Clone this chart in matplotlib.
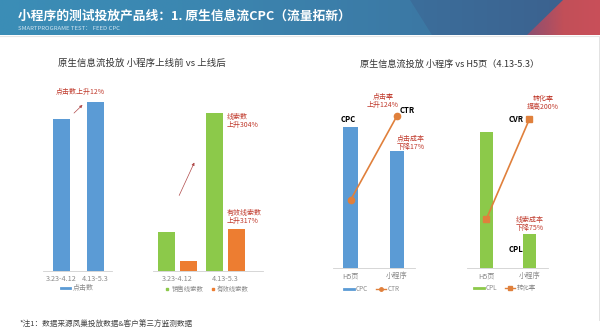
import numpy as np
import matplotlib
matplotlib.use("Agg")
import matplotlib.pyplot as plt
from matplotlib.lines import Line2D
from matplotlib.patches import Polygon
from matplotlib.colors import LinearSegmentedColormap

plt.rcParams['font.family'] = ['Noto Sans CJK SC', 'DejaVu Sans']

# ---------------- data ----------------
title = "小程序的测试投放产品线：1. 原生信息流CPC（流量拓新）"
subtitle = "SMARTPROGRAME TEST： FEED CPC"
footer = "*注1：数据来源凤巢投放数据&客户第三方监测数据"

periods = ["3.23-4.12", "4.13-5.3"]
clicks = [152, 169]

leads_sales = [39, 158]
leads_valid = [10, 42]

pages = ["H5页", "小程序"]
cpc = [141, 117]
ctr = [68, 152]

pages2 = ["H5页", "小程序"]
cpl = [136, 34]
cvr = [49, 149]

BLUE = "#5b9bd5"
GREEN = "#8cc94a"
ORANGE = "#ed7d31"
LINEOR = "#e0803c"
RED = "#c0392b"
GRAY = "#8a8a8a"

W, H = 600, 335
fig = plt.figure(figsize=(6.0, 3.35), dpi=100)
fig.patch.set_facecolor("white")


def rect(x0, x1, ytop, ybase):
    return [x0 / W, 1 - ybase / H, (x1 - x0) / W, (ybase - ytop) / H]


def fx(x):
    return x / W


def fy(y):
    return 1 - y / H


# ---------------- header ----------------
hax = fig.add_axes([0, 1 - 35 / H, 1, 35 / H])
hax.set_xlim(0, W)
hax.set_ylim(35, 0)
hax.axis("off")
cmap = LinearSegmentedColormap.from_list("hdr", ["#3a8db6", "#3a82ad", "#3b6f9c", "#3c5f8c"])
grad = np.linspace(0, 1, 256).reshape(1, -1)
hax.imshow(grad, extent=(0, W, 35, 0), aspect="auto", cmap=cmap, zorder=0)
hax.add_patch(Polygon([[410, 0], [432, 35], [0, 35], [0, 0]], closed=True,
                      facecolor="#3d8fb8", alpha=0.35, lw=0, zorder=1))
rcmap = LinearSegmentedColormap.from_list("red", ["#8a4f72", "#c24f58", "#c9505a"])
im = hax.imshow(grad, extent=(527, W, 35, 0), aspect="auto", cmap=rcmap, zorder=2)
tri = Polygon([[527, 35], [563, 0], [W, 0], [W, 35]], closed=True, transform=hax.transData)
im.set_clip_path(tri)
hax.set_xlim(0, W)
hax.set_ylim(35, 0)

fig.text(fx(18), fy(16), title, color="white", fontsize=9.2, fontweight="bold",
         va="center", ha="left")
fig.text(fx(18), fy(28.5), subtitle, color="#cfe3ef", fontsize=4.3, va="center", ha="left")

# thin line under header
fig.add_artist(Line2D([0, 1], [fy(36), fy(36)], color="#e6e6e6", lw=0.8))
fig.add_artist(Line2D([fx(599), fx(599)], [fy(37), fy(320)], color="#dddddd", lw=0.6))


def style_ax(ax):
    for s in ["top", "right", "left"]:
        ax.spines[s].set_visible(False)
    ax.spines["bottom"].set_color("#d0d0d0")
    ax.spines["bottom"].set_linewidth(0.6)
    ax.set_yticks([])
    ax.tick_params(axis="x", length=0, labelsize=5.2, labelcolor=GRAY, pad=3)
    ax.patch.set_alpha(0)


# ---------------- chart 1 ----------------
fig.text(fx(142), fy(63), "原生信息流投放 小程序上线前 vs 上线后", fontsize=6.8,
         ha="center", va="center", color="#333333")

ax1 = fig.add_axes(rect(43, 112, 70, 270.7))
x1 = np.arange(len(periods))
ax1.bar(x1, clicks, width=0.5, color=BLUE)
ax1.set_xlim(-0.54, 1.49)
ax1.set_ylim(0, 200.7)
ax1.set_xticks(x1)
ax1.set_xticklabels(periods)
style_ax(ax1)
fig.text(fx(80), fy(92), "点击数上升12%", color=RED, fontsize=5, ha="center", va="center")
fig.add_artist(matplotlib.patches.FancyArrowPatch((fx(72), fy(115)), (fx(84.5), fy(103)),
               transform=fig.transFigure, arrowstyle="-|>", mutation_scale=4,
               color="#b04a4a", lw=0.5))
fig.legend(handles=[Line2D([], [], color=BLUE, lw=2)], labels=["点击数"],
           loc="center", bbox_to_anchor=(fx(77), fy(288)), frameon=False,
           fontsize=5, handlelength=1.3, handletextpad=0.4, labelcolor=GRAY)

# ---------------- chart 2 ----------------
ax2 = fig.add_axes(rect(153, 263, 70, 270.7))
x2 = np.arange(len(periods))
ax2.bar(x2 - 0.229, leads_sales, width=0.354, color=GREEN)
ax2.bar(x2 + 0.229, leads_valid, width=0.354, color=ORANGE)
ax2.set_xlim(-0.51, 1.78)
ax2.set_ylim(0, 200.7)
ax2.set_xticks(x2)
ax2.set_xticklabels(periods)
style_ax(ax2)
fig.text(fx(227), fy(121), "线索数\n上升304%", color=RED, fontsize=5, ha="left",
         va="center", linespacing=1.1)
fig.text(fx(227), fy(217), "有效线索数\n上升317%", color=RED, fontsize=5, ha="left",
         va="center", linespacing=1.1)
fig.add_artist(matplotlib.patches.FancyArrowPatch((fx(178), fy(198)), (fx(195.5), fy(160)),
               transform=fig.transFigure, arrowstyle="-|>", mutation_scale=4,
               color="#b04a4a", lw=0.5))
fig.legend(handles=[Line2D([], [], color=GREEN, marker="s", ls="none", ms=2),
                    Line2D([], [], color=ORANGE, marker="s", ls="none", ms=2)],
           labels=["销售线索数", "有效线索数"], ncol=2,
           loc="center", bbox_to_anchor=(fx(207), fy(289)), frameon=False,
           fontsize=4.6, handlelength=0.6, handletextpad=0.3, columnspacing=1.2,
           labelcolor=GRAY)

# ---------------- chart 3 ----------------
fig.text(fx(450), fy(64), "原生信息流投放 小程序 vs H5页（4.13-5.3）", fontsize=6.6,
         ha="center", va="center", color="#333333")

ax3 = fig.add_axes(rect(333, 415, 70, 268))
x3 = np.arange(len(pages))
ax3.bar(x3, cpc, width=0.32, color=BLUE)
ax3.set_xlim(-0.38, 1.39)
ax3.set_ylim(0, 198)
ax3.set_xticks(x3)
ax3.set_xticklabels(pages)
style_ax(ax3)
ax3b = ax3.twinx()
ax3b.plot(x3, ctr, color=LINEOR, lw=1.2, marker="o", ms=4.5)
ax3b.set_ylim(0, 198)
ax3b.axis("off")
fig.text(fx(348), fy(119), "CPC", fontsize=5.5, fontweight="bold", ha="center", va="center")
fig.text(fx(407), fy(110), "CTR", fontsize=5.5, fontweight="bold", ha="center", va="center")
fig.text(fx(383), fy(101), "点击率\n上升124%", color=RED, fontsize=5, ha="center",
         va="center", linespacing=1.1)
fig.text(fx(411), fy(143), "点击成本\n下降17%", color=RED, fontsize=5, ha="center",
         va="center", linespacing=1.1)
fig.legend(handles=[Line2D([], [], color=BLUE, lw=2),
                    Line2D([], [], color=LINEOR, lw=1, marker="o", ms=2.5)],
           labels=["CPC", "CTR"], ncol=2,
           loc="center", bbox_to_anchor=(fx(372), fy(289)), frameon=False,
           fontsize=4.6, handlelength=1.6, handletextpad=0.3, columnspacing=1.2,
           labelcolor=GRAY)

# ---------------- chart 4 ----------------
ax4 = fig.add_axes(rect(467, 548, 70, 268))
x4 = np.arange(len(pages2))
ax4.bar(x4, cpl, width=0.3, color=GREEN)
ax4.set_xlim(-0.45, 1.43)
ax4.set_ylim(0, 198)
ax4.set_xticks(x4)
ax4.set_xticklabels(pages2)
style_ax(ax4)
ax4b = ax4.twinx()
ax4b.plot(x4, cvr, color=LINEOR, lw=1.2, marker="s", ms=4.5)
ax4b.set_ylim(0, 198)
ax4b.axis("off")
fig.text(fx(516), fy(119), "CVR", fontsize=5.5, fontweight="bold", ha="center", va="center")
fig.text(fx(516), fy(250), "CPL", fontsize=5.5, fontweight="bold", ha="center", va="center")
fig.text(fx(543), fy(103), "转化率\n提高200%", color=RED, fontsize=5, ha="center",
         va="center", linespacing=1.1)
fig.text(fx(530), fy(224), "线索成本\n下降75%", color=RED, fontsize=5, ha="center",
         va="center", linespacing=1.1)
fig.legend(handles=[Line2D([], [], color=GREEN, lw=2),
                    Line2D([], [], color=LINEOR, lw=1, marker="s", ms=2.5)],
           labels=["CPL", "转化率"], ncol=2,
           loc="center", bbox_to_anchor=(fx(505), fy(288)), frameon=False,
           fontsize=4.6, handlelength=1.6, handletextpad=0.3, columnspacing=1.2,
           labelcolor=GRAY)

# ---------------- footer ----------------
fig.text(fx(20), fy(325), footer, fontsize=5.5, color="#444444", ha="left", va="center")

fig.savefig("out.png", dpi=100)
